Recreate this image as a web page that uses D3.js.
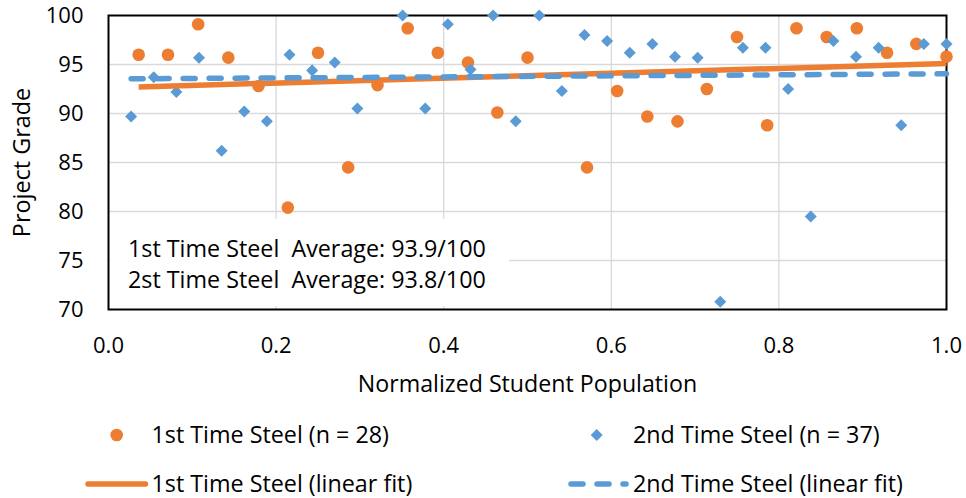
<!DOCTYPE html>
<html>
<head>
<meta charset="utf-8">
<script src="https://cdn.jsdelivr.net/npm/d3@7/dist/d3.min.js"></script>
<style>
  body { margin: 0; background: #fff; }
  text { font-family: "Open Sans", Lato, sans-serif; fill: #000; }
</style>
</head>
<body>
<div id="chart"></div>
<script>
// values (grades above 100 sit outside the axis and are not drawn)
var firstX = [0.036, 0.071, 0.107, 0.143, 0.179, 0.214, 0.250, 0.286, 0.321, 0.357,
              0.393, 0.429, 0.464, 0.500, 0.536, 0.571, 0.607, 0.643, 0.679, 0.714,
              0.750, 0.786, 0.821, 0.857, 0.893, 0.929, 0.964, 1.000];
var firstGrade = [96.0, 96.0, 99.1, 95.7, 92.8, 80.4, 96.2, 84.5, 92.9, 98.7,
                  96.2, 95.2, 90.1, 95.7, 100.6, 84.5, 92.3, 89.7, 89.2, 92.5,
                  97.8, 88.8, 98.7, 97.8, 98.7, 96.2, 97.1, 95.8];

var secondX = [0.027, 0.054, 0.081, 0.108, 0.135, 0.162, 0.189, 0.216, 0.243, 0.270,
               0.297, 0.324, 0.351, 0.378, 0.405, 0.432, 0.459, 0.486, 0.514, 0.541,
               0.568, 0.595, 0.622, 0.649, 0.676, 0.703, 0.730, 0.757, 0.784, 0.811,
               0.838, 0.865, 0.892, 0.919, 0.946, 0.973, 1.000];
var secondGrade = [89.7, 93.7, 92.2, 95.7, 86.2, 90.2, 89.2, 96.0, 94.4, 95.2,
                   90.5, 102.5, 100.0, 90.5, 99.1, 94.5, 100.0, 89.2, 100.0, 92.3,
                   98.0, 97.4, 96.2, 97.1, 95.8, 95.7, 70.8, 96.7, 96.7, 92.5,
                   79.5, 97.4, 95.8, 96.7, 88.8, 97.1, 97.1];

var xTicks = [0, 0.2, 0.4, 0.6, 0.8, 1.0];
var yTicks = [70, 75, 80, 85, 90, 95, 100];
var boxLines = ['1st Time Steel  Average: 93.9/100', '2st Time Steel  Average: 93.8/100'];
var seriesNames = ['1st Time Steel (n = 28)', '2nd Time Steel (n = 37)'];
var fitNames = ['1st Time Steel (linear fit)', '2nd Time Steel (linear fit)'];

var orange = '#ED7D31';
var blue = '#5B9BD5';

var width = 966, height = 498;
var plot = {left: 108.5, right: 946.5, top: 15.5, bottom: 309.5};

var svg = d3.select('#chart').append('svg')
    .attr('width', width)
    .attr('height', height);

var x = d3.scaleLinear().domain([0, 1]).range([plot.left, plot.right]);
var y = d3.scaleLinear().domain([70, 100]).range([plot.bottom, plot.top]);

// least squares fit, like the excel trendline
function linFit(xs, ys) {
    var mx = d3.mean(xs), my = d3.mean(ys);
    var num = 0, den = 0;
    xs.forEach(function(v, i) {
        num += (v - mx) * (ys[i] - my);
        den += (v - mx) * (v - mx);
    });
    var b = num / den, a = my - b * mx;
    var x0 = d3.min(xs), x1 = d3.max(xs);
    return [[x0, a + b * x0], [x1, a + b * x1]];
}

// gridlines
svg.append('g').selectAll('line').data(yTicks.slice(1, -1)).join('line')
    .attr('x1', plot.left).attr('x2', plot.right)
    .attr('y1', d => y(d)).attr('y2', d => y(d))
    .attr('stroke', '#d9d9d9').attr('stroke-width', 1.3);
svg.append('g').selectAll('line').data(xTicks.slice(1, -1)).join('line')
    .attr('x1', d => x(d)).attr('x2', d => x(d))
    .attr('y1', plot.top).attr('y2', plot.bottom)
    .attr('stroke', '#d9d9d9').attr('stroke-width', 1.3);

// plot border
svg.append('rect')
    .attr('x', plot.left).attr('y', plot.top)
    .attr('width', plot.right - plot.left).attr('height', plot.bottom - plot.top)
    .attr('fill', 'none').attr('stroke', '#000').attr('stroke-width', 2);

// average text box
svg.append('rect')
    .attr('x', plot.left + 1.5).attr('y', 219)
    .attr('width', 399).attr('height', 87)
    .attr('fill', '#fff');
svg.append('g').selectAll('text').data(boxLines).join('text')
    .attr('x', 128)
    .attr('y', (d, i) => 256.5 + i * 31.5)
    .attr('font-size', 23.3)
    .style('white-space', 'pre')
    .text(d => d);

// tick labels
svg.append('g').selectAll('text').data(yTicks).join('text')
    .attr('x', 83.5).attr('y', d => y(d)).attr('dy', '0.36em')
    .attr('text-anchor', 'end').attr('font-size', 22)
    .text(d => d);
svg.append('g').selectAll('text').data(xTicks).join('text')
    .attr('x', d => x(d)).attr('y', 353)
    .attr('text-anchor', 'middle').attr('font-size', 22)
    .text(d => d3.format('.1f')(d));

// axis titles
svg.append('text')
    .attr('x', (plot.left + plot.right) / 2).attr('y', 391.5)
    .attr('text-anchor', 'middle').attr('font-size', 23.2)
    .text('Normalized Student Population');
svg.append('text')
    .attr('transform', 'translate(29.5,' + ((plot.top + plot.bottom) / 2) + ') rotate(-90)')
    .attr('text-anchor', 'middle').attr('font-size', 23.4)
    .text('Project Grade');

// markers (points above 100 are off the axis)
var inRange = (d) => d[1] <= 100;
var firstPts = firstX.map((v, i) => [v, firstGrade[i]]);
var secondPts = secondX.map((v, i) => [v, secondGrade[i]]);

svg.append('g').selectAll('circle').data(firstPts.filter(inRange)).join('circle')
    .attr('cx', d => x(d[0])).attr('cy', d => y(d[1]))
    .attr('r', 6.3).attr('fill', orange);

var diamond = d3.symbol().type(d3.symbolDiamond2).size(92);
svg.append('g').selectAll('path').data(secondPts.filter(inRange)).join('path')
    .attr('transform', d => 'translate(' + x(d[0]) + ',' + y(d[1]) + ')')
    .attr('d', diamond).attr('fill', blue);

// trendlines
var line = d3.line().x(d => x(d[0])).y(d => y(d[1]));
svg.append('path').datum(linFit(firstX, firstGrade))
    .attr('d', line).attr('fill', 'none')
    .attr('stroke', orange).attr('stroke-width', 5.5);
svg.append('path').datum(linFit(secondX, secondGrade))
    .attr('d', line).attr('fill', 'none')
    .attr('stroke', blue).attr('stroke-width', 5.5)
    .attr('stroke-dasharray', '12,14').attr('stroke-linecap', 'round');

// legend
var lg = svg.append('g');
lg.append('circle').attr('cx', 116.7).attr('cy', 435).attr('r', 6.3).attr('fill', orange);
lg.append('path').attr('transform', 'translate(596.7,435)').attr('d', diamond).attr('fill', blue);
lg.append('line').attr('x1', 88).attr('x2', 145.5).attr('y1', 484).attr('y2', 484)
    .attr('stroke', orange).attr('stroke-width', 5.5).attr('stroke-linecap', 'round');
lg.append('line').attr('x1', 571).attr('x2', 626).attr('y1', 484).attr('y2', 484)
    .attr('stroke', blue).attr('stroke-width', 5.5)
    .attr('stroke-dasharray', '12,14').attr('stroke-linecap', 'round');

lg.selectAll('text.s').data(seriesNames).join('text')
    .attr('x', (d, i) => i ? 633 : 151.5).attr('y', 442.5)
    .attr('font-size', 23.3).text(d => d);
lg.selectAll('text.f').data(fitNames).join('text')
    .attr('x', (d, i) => i ? 633 : 151.5).attr('y', 491.5)
    .attr('font-size', 23.3).text(d => d);
</script>
</body>
</html>
